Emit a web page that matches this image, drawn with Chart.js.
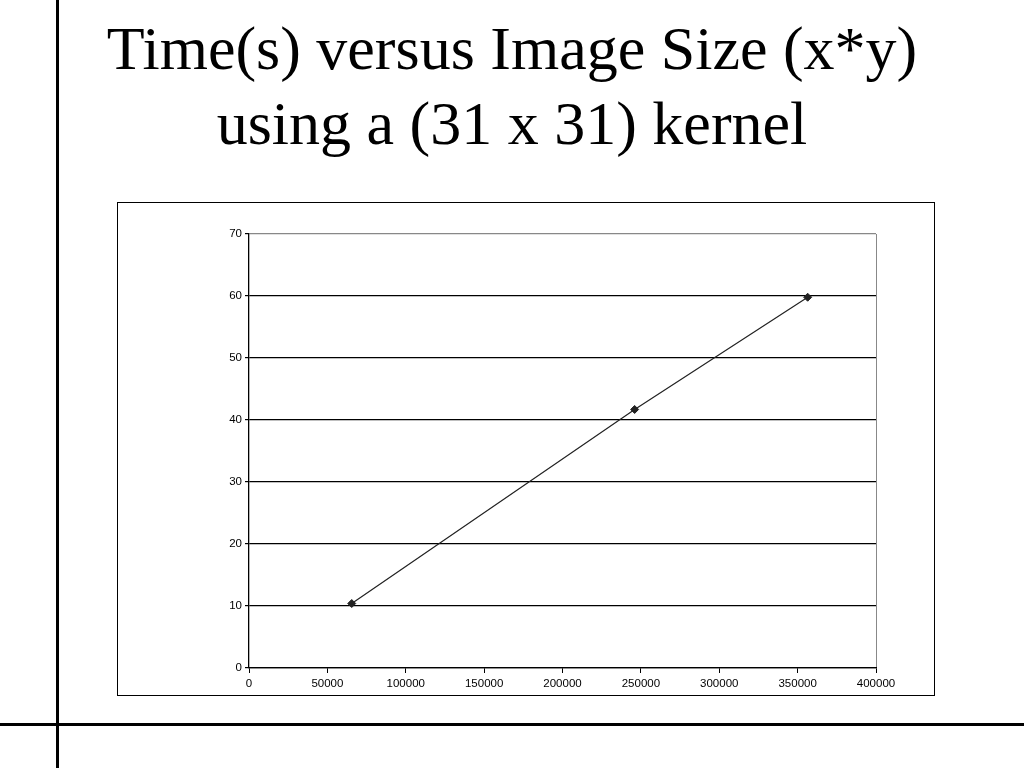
<!DOCTYPE html>
<html>
<head>
<meta charset="utf-8">
<script src="https://cdn.jsdelivr.net/npm/chart.js@4/dist/chart.umd.min.js"></script>
<style>
  html, body { margin: 0; padding: 0; background: #fff; }
  body { width: 1024px; height: 768px; position: relative; overflow: hidden; }
  #vrule { position: absolute; left: 56px; top: 0; width: 3px; height: 768px; background: #000; }
  #hrule { position: absolute; left: 0; top: 723px; width: 1024px; height: 3px; background: #000; }
  #title { position: absolute; left: 0; top: 11px; width: 1024px; text-align: center;
           font-family: "Liberation Serif", "Times New Roman", serif; font-size: 62px; line-height: 75px; color: #000; }
  #box { position: absolute; left: 117px; top: 202px; width: 816px; height: 492px; border: 1px solid #000; background: #fff; }
  #box canvas { display: block; }
</style>
</head>
<body>
<div id="vrule"></div>
<div id="hrule"></div>
<div id="title">Time(s) versus Image Size (x*y)<br>using a (31 x 31) kernel</div>
<div id="box"><canvas id="c" width="816" height="492"></canvas></div>
<script>
const imageSizes = [65536, 246016, 356409];
const timeSeconds = [10.4, 41.7, 59.8];
const xTicks = [0, 50000, 100000, 150000, 200000, 250000, 300000, 350000, 400000];
const yTicks = [0, 10, 20, 30, 40, 50, 60, 70];

const points = imageSizes.map((x, i) => ({ x: x, y: timeSeconds[i] }));
const tickFont = { family: "Liberation Sans, Arial, sans-serif", size: 11.5 };

new Chart(document.getElementById('c'), {
  type: 'scatter',
  data: {
    datasets: [{
      data: points,
      showLine: true,
      borderColor: '#222',
      borderWidth: 1.2,
      backgroundColor: '#222',
      pointStyle: 'rectRot',
      pointRadius: 4,
      pointBorderWidth: 1
    }]
  },
  options: {
    responsive: false,
    animation: false,
    events: [],
    layout: { padding: { left: 111, right: 58, top: 31, bottom: 0 } },
    plugins: { legend: { display: false }, tooltip: { enabled: false }, title: { display: false } },
    scales: {
      x: {
        type: 'linear',
        min: 0, max: 400000,
        afterBuildTicks: s => { s.ticks = xTicks.map(v => ({ value: v })); },
        afterFit: s => { s.height = 27; },
        border: { color: '#000', width: 1.3 },
        grid: {
          drawOnChartArea: true,
          color: c => (c.tick && c.tick.value === 400000) ? '#888' : 'rgba(0,0,0,0)',
          tickColor: '#000',
          tickLength: 5,
          lineWidth: 1
        },
        ticks: { color: '#000', font: tickFont, maxRotation: 0, autoSkip: false, padding: 4,
                 callback: v => String(v) }
      },
      y: {
        type: 'linear',
        min: 0, max: 70,
        afterBuildTicks: s => { s.ticks = yTicks.map(v => ({ value: v })); },
        afterFit: s => { s.width = 20; },
        border: { color: '#000', width: 1.3 },
        grid: {
          color: c => (c.tick && c.tick.value === 70) ? '#888' : '#000',
          tickColor: '#000',
          tickLength: 4,
          lineWidth: 1.2
        },
        ticks: { color: '#000', font: tickFont, autoSkip: false, padding: 3,
                 callback: v => String(v) }
      }
    }
  }
});
</script>
</body>
</html>
